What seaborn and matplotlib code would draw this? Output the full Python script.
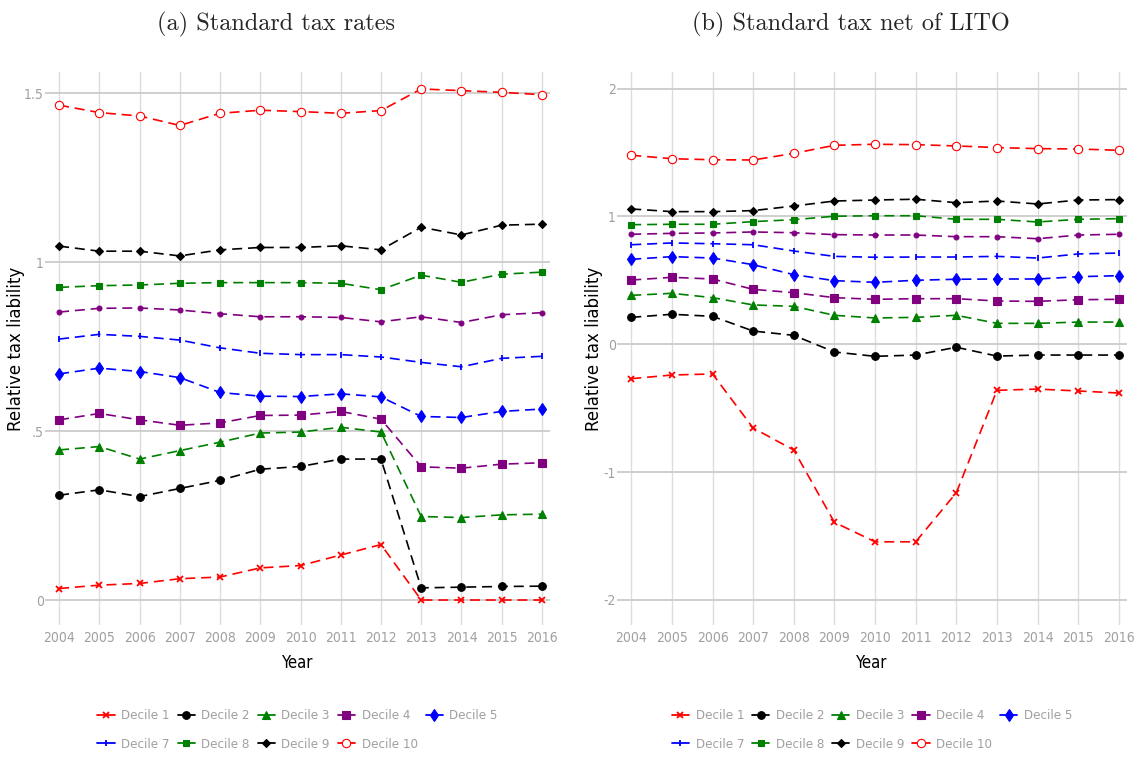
import pandas as pd
import seaborn as sns
import matplotlib.pyplot as plt
from matplotlib.lines import Line2D

# data
years = list(range(2004, 2017))

# (a) Standard tax rates
std_d1 = [0.034, 0.044, 0.049, 0.063, 0.068, 0.095, 0.102, 0.133, 0.164, 0.0, 0.0, 0.0, 0.0]
std_d2 = [0.310, 0.326, 0.306, 0.330, 0.354, 0.387, 0.395, 0.417, 0.417, 0.036, 0.038, 0.040, 0.041]
std_d3 = [0.444, 0.454, 0.417, 0.442, 0.467, 0.494, 0.497, 0.511, 0.497, 0.247, 0.244, 0.252, 0.254]
std_d4 = [0.533, 0.552, 0.533, 0.517, 0.524, 0.546, 0.547, 0.558, 0.535, 0.394, 0.390, 0.402, 0.406]
std_d5 = [0.669, 0.686, 0.676, 0.658, 0.614, 0.603, 0.602, 0.610, 0.601, 0.543, 0.540, 0.558, 0.565]
std_d6 = [0.852, 0.863, 0.864, 0.858, 0.847, 0.838, 0.838, 0.836, 0.823, 0.838, 0.821, 0.844, 0.850]
std_d7 = [0.772, 0.786, 0.780, 0.769, 0.746, 0.730, 0.726, 0.726, 0.719, 0.703, 0.690, 0.715, 0.721]
std_d8 = [0.925, 0.930, 0.932, 0.937, 0.939, 0.939, 0.939, 0.937, 0.918, 0.961, 0.940, 0.964, 0.970]
std_d9 = [1.047, 1.032, 1.032, 1.018, 1.036, 1.043, 1.043, 1.048, 1.036, 1.103, 1.080, 1.109, 1.112]
std_d10 = [1.464, 1.442, 1.432, 1.404, 1.440, 1.449, 1.445, 1.440, 1.448, 1.512, 1.507, 1.502, 1.495]

# (b) Standard tax net of LITO
lito_d1 = [-0.269, -0.240, -0.232, -0.655, -0.827, -1.393, -1.545, -1.545, -1.161, -0.360, -0.350, -0.365, -0.381]
lito_d2 = [0.211, 0.235, 0.219, 0.104, 0.070, -0.060, -0.094, -0.084, -0.023, -0.092, -0.084, -0.084, -0.084]
lito_d3 = [0.383, 0.399, 0.365, 0.308, 0.297, 0.227, 0.206, 0.211, 0.227, 0.164, 0.164, 0.174, 0.174]
lito_d4 = [0.503, 0.524, 0.511, 0.430, 0.404, 0.365, 0.352, 0.357, 0.357, 0.339, 0.336, 0.349, 0.352]
lito_d5 = [0.665, 0.686, 0.675, 0.623, 0.545, 0.498, 0.485, 0.501, 0.509, 0.511, 0.511, 0.529, 0.537]
lito_d6 = [0.861, 0.868, 0.871, 0.879, 0.873, 0.858, 0.855, 0.855, 0.842, 0.842, 0.826, 0.855, 0.861]
lito_d7 = [0.779, 0.793, 0.787, 0.779, 0.730, 0.688, 0.681, 0.683, 0.683, 0.688, 0.675, 0.707, 0.714]
lito_d8 = [0.936, 0.939, 0.939, 0.960, 0.975, 1.002, 1.006, 1.006, 0.978, 0.978, 0.957, 0.978, 0.983]
lito_d9 = [1.059, 1.038, 1.038, 1.046, 1.082, 1.121, 1.129, 1.135, 1.108, 1.121, 1.098, 1.129, 1.132]
lito_d10 = [1.479, 1.452, 1.444, 1.442, 1.494, 1.557, 1.565, 1.562, 1.552, 1.539, 1.531, 1.528, 1.518]

deciles = ['Decile 1', 'Decile 2', 'Decile 3', 'Decile 4', 'Decile 5',
           'Decile 6', 'Decile 7', 'Decile 8', 'Decile 9', 'Decile 10']
std_vals = [std_d1, std_d2, std_d3, std_d4, std_d5, std_d6, std_d7, std_d8, std_d9, std_d10]
lito_vals = [lito_d1, lito_d2, lito_d3, lito_d4, lito_d5, lito_d6, lito_d7, lito_d8, lito_d9, lito_d10]

# style per decile: colour, marker, marker size, face colour
styles = {
    'Decile 1': ('red', 'x', 4, 'red'),
    'Decile 2': ('black', 'o', 5.5, 'black'),
    'Decile 3': ('green', '^', 6, 'green'),
    'Decile 4': ('purple', 's', 6, 'purple'),
    'Decile 5': ('blue', 'd', 6.5, 'blue'),
    'Decile 6': ('purple', 'o', 3.5, 'purple'),
    'Decile 7': ('blue', '|', 4, 'blue'),
    'Decile 8': ('green', 's', 4.5, 'green'),
    'Decile 9': ('black', 'D', 4, 'black'),
    'Decile 10': ('red', 'o', 6, 'white'),
}

def to_long(vals):
    rows = []
    for name, v in zip(deciles, vals):
        for yr, val in zip(years, v):
            rows.append({'Year': yr, 'value': val, 'decile': name})
    return pd.DataFrame(rows)

df_std = to_long(std_vals)
df_lito = to_long(lito_vals)

sns.set_theme(style='whitegrid')
plt.rcParams['font.family'] = ['DejaVu Sans']
plt.rcParams['font.stretch'] = 'condensed'

fig = plt.figure(figsize=(11.37, 7.6), dpi=100)
ax1 = fig.add_axes([0.0396, 0.1776, 0.4441, 0.7276])
ax2 = fig.add_axes([0.5427, 0.1776, 0.4485, 0.7276])

tick_grey = '#a0a0a0'


def draw_panel(ax, df, title, yticks, ylabels, ylim, ylab_x, title_x):
    for name in deciles:
        col, mk, ms, fc = styles[name]
        sub = df[df['decile'] == name]
        sns.lineplot(data=sub, x='Year', y='value', ax=ax, color=col,
                     marker=mk, markersize=ms, markerfacecolor=fc,
                     markeredgecolor=col, markeredgewidth=1.3 if mk in 'x|' else 0.8,
                     linestyle=(0, (6, 3.5)), linewidth=1.2)
    ax.set_xlim(2003.65, 2016.2)
    ax.set_ylim(*ylim)
    ax.set_xticks(years)
    ax.set_xticklabels([str(y) for y in years])
    ax.set_yticks(yticks)
    ax.set_yticklabels(ylabels)
    ax.tick_params(axis='both', colors=tick_grey, labelsize=10, length=0)
    ax.tick_params(axis='x', pad=4)
    ax.tick_params(axis='y', pad=1)
    for s in ax.spines.values():
        s.set_visible(False)
    ax.grid(axis='x', color='#dcdcdc', linewidth=1.0)
    ax.grid(axis='y', color='#cccccc', linewidth=1.3)
    ax.set_xlabel('Year', fontsize=12, color='black', labelpad=7)
    ax.set_ylabel('Relative tax liability', fontsize=12, color='black',
                  family='DejaVu Sans', stretch='normal')
    ax.yaxis.set_label_coords(ylab_x, 0.5)
    t = ax.set_title(title, family=['cmr10', 'DejaVu Serif'], stretch='normal',
                     fontsize=17.5, pad=30)
    t.set_x(title_x)

    # legend without decile 6, row-wise order
    order = ['Decile 1', 'Decile 7', 'Decile 2', 'Decile 8', 'Decile 3',
             'Decile 9', 'Decile 4', 'Decile 10', 'Decile 5']
    handles = []
    for name in order:
        col, mk, ms, fc = styles[name]
        handles.append(Line2D([0], [0], color=col, marker=mk, markersize=ms,
                              markerfacecolor=fc, markeredgecolor=col,
                              markeredgewidth=1.3 if mk in 'x|' else 0.8,
                              linewidth=1.3))
    leg = ax.legend(handles, order, loc='center', bbox_to_anchor=(0.5, -0.19),
                    ncol=5, frameon=False, fontsize=9.5, handlelength=1.3,
                    handletextpad=0.5, columnspacing=0.6, labelspacing=1.2)
    for txt in leg.get_texts():
        txt.set_color(tick_grey)


draw_panel(ax1, df_std, '(a) Standard tax rates', [0, 0.5, 1, 1.5],
           ['0', '.5', '1', '1.5'], (-0.074, 1.562), -0.040, 0.457)
draw_panel(ax2, df_lito, '(b) Standard tax net of LITO', [-2, -1, 0, 1, 2],
           ['-2', '-1', '0', '1', '2'], (-2.196, 2.13), -0.027, 0.459)

plt.savefig('out.png', dpi=100)
